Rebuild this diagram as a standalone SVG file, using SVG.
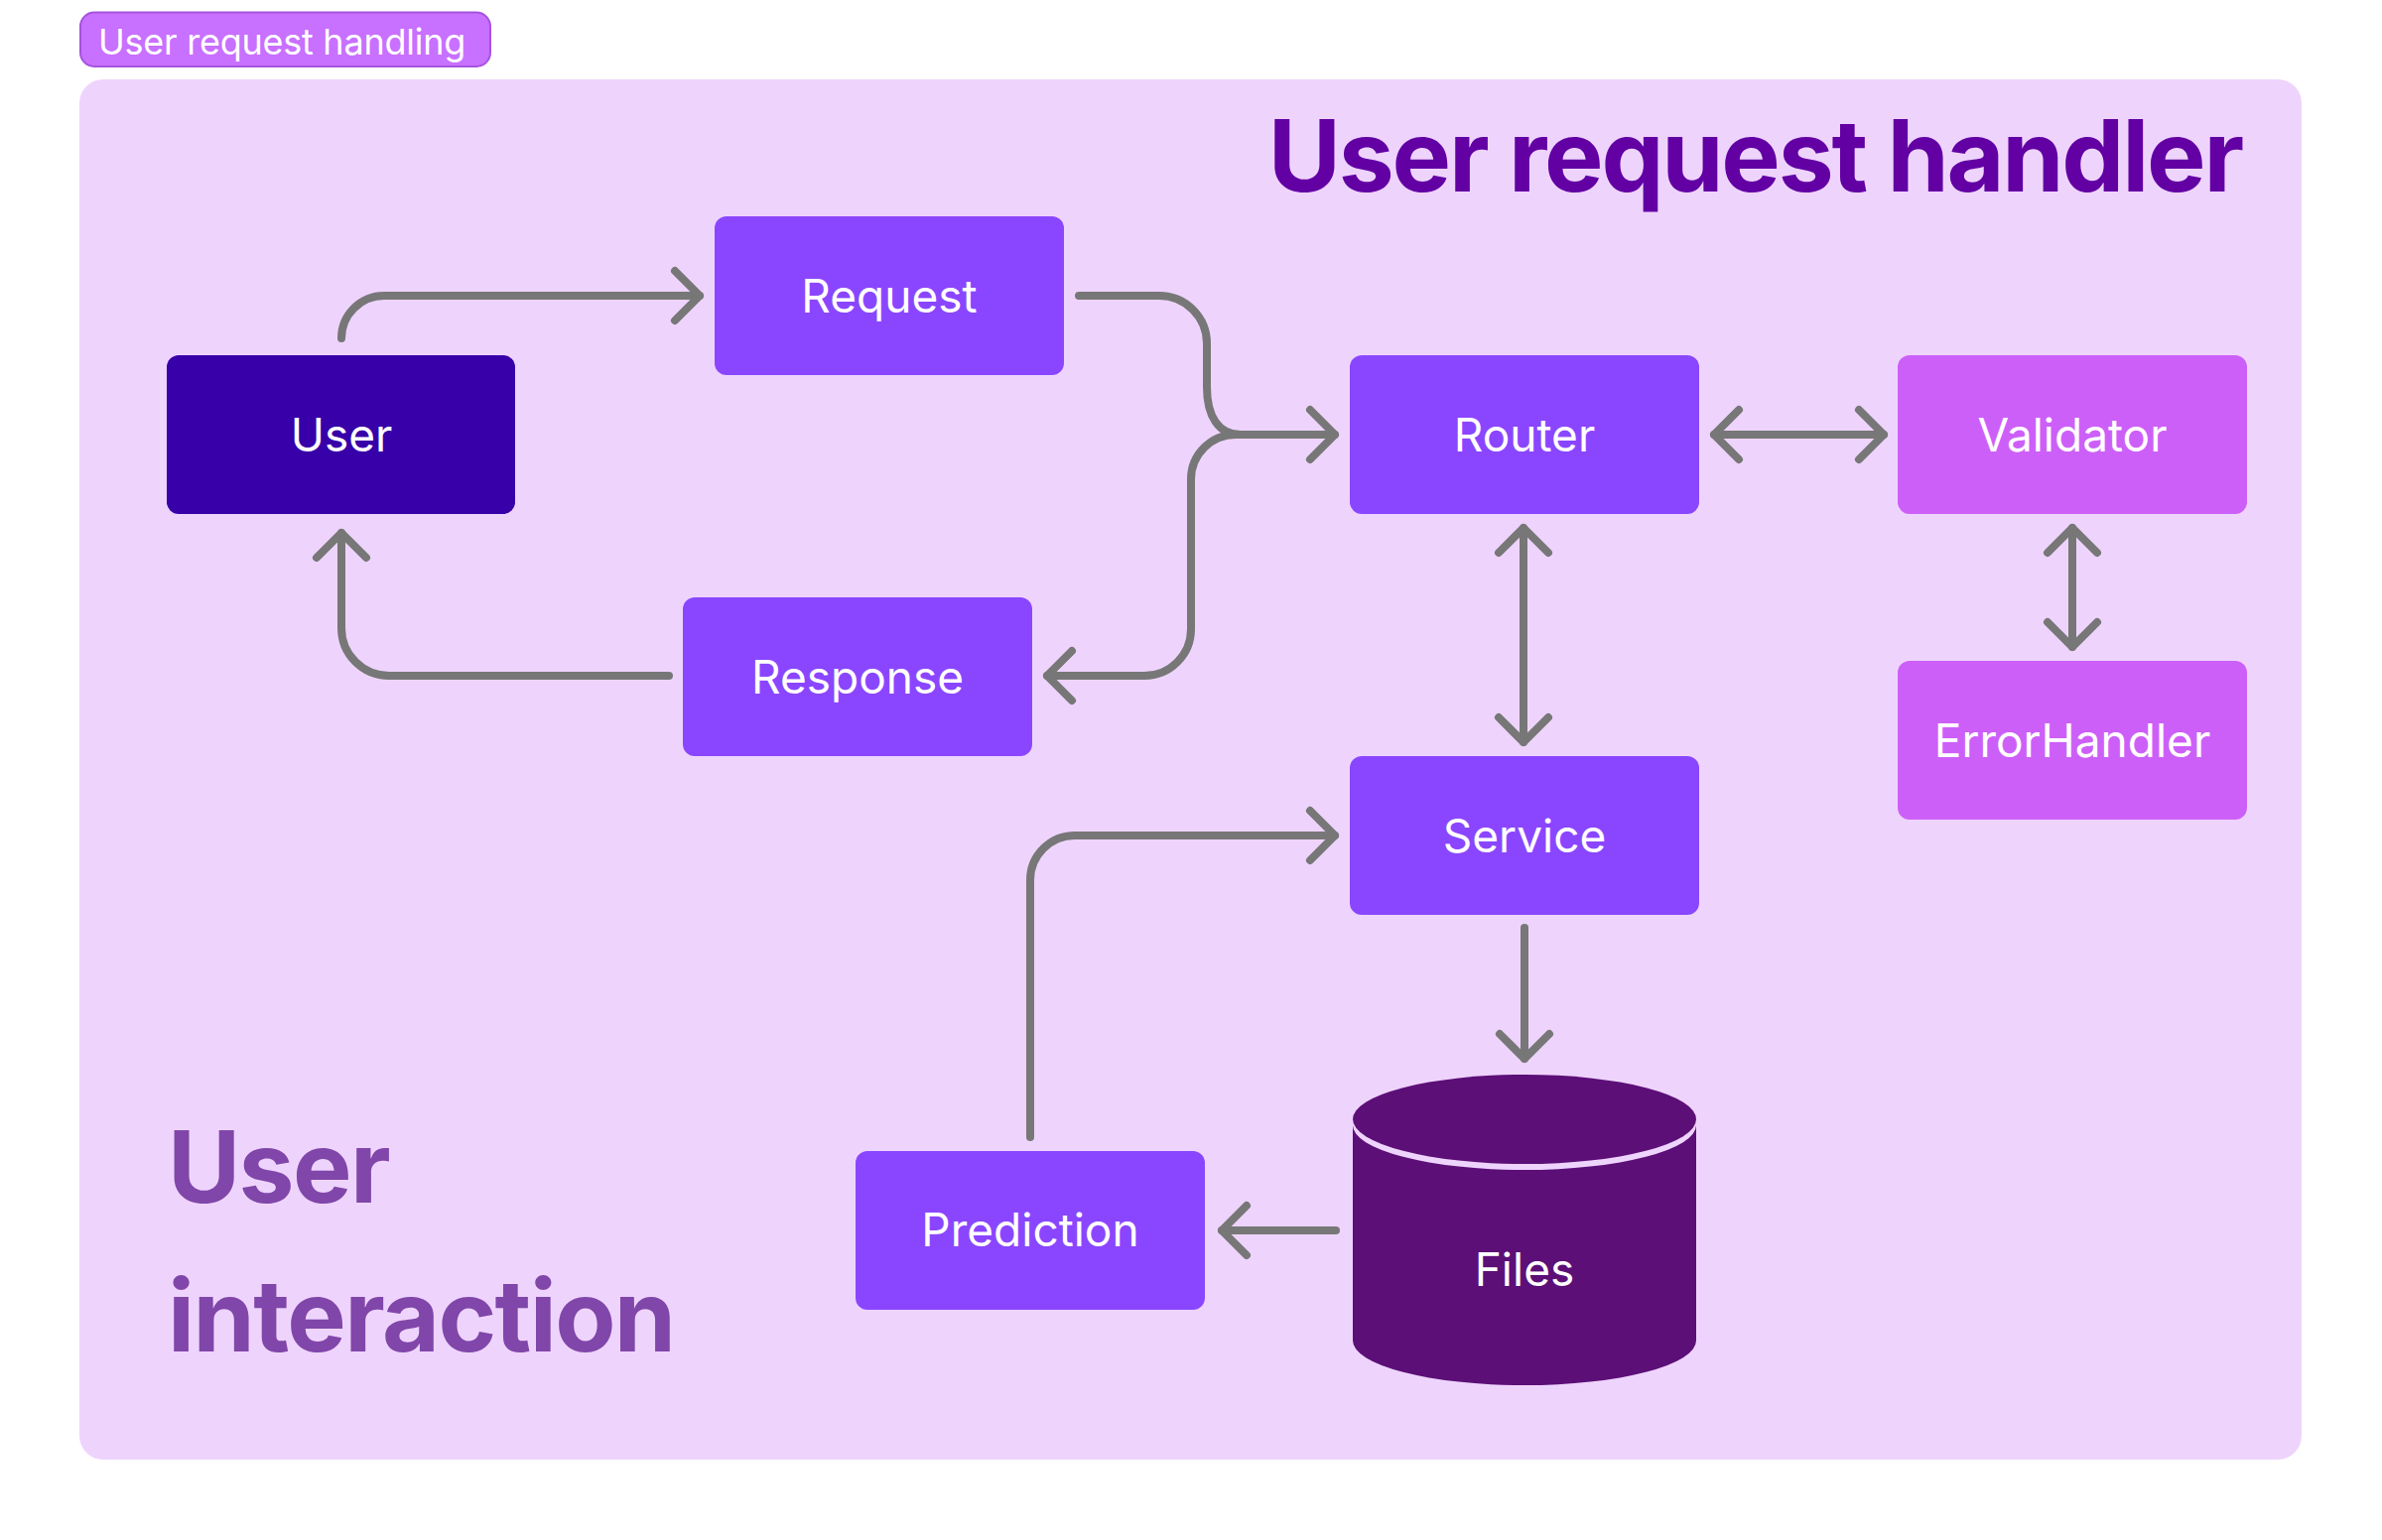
<svg xmlns="http://www.w3.org/2000/svg" width="2400" height="1552" viewBox="0 0 2400 1552">
  <style>
    .node { fill: #8A46FF; }
    .dark { fill: #3700A8; }
    .pink { fill: #CD5FF9; }
    .lbl { font-family: Inter, "Noto Sans", "Liberation Sans", sans-serif; font-size: 46px; fill: #FFFFFF; text-anchor: middle; }
    .conn { fill: none; stroke: #777777; stroke-width: 8; stroke-linecap: round; stroke-linejoin: round; }
    .big { font-family: Inter, "Noto Sans", "Liberation Sans", sans-serif; font-weight: 700; font-size: 100px; letter-spacing: -2.2px; }
    .big2 { letter-spacing: -1.6px; }
  </style>
  <defs>
    <marker id="ah" viewBox="0 0 40 64" refX="32" refY="32" markerWidth="40" markerHeight="64" markerUnits="userSpaceOnUse" orient="auto-start-reverse">
      <path d="M7,7 L32,32 L7,57" fill="none" stroke="#777777" stroke-width="8" stroke-linecap="round" stroke-linejoin="round"/>
    </marker>
  </defs>
  <rect width="2400" height="1552" fill="#FFFFFF"/>

  <g id="group-label">
    <rect x="81" y="12.5" width="413" height="54.5" rx="14" fill="#C870FF" stroke="#A652DF" stroke-width="2"/>
    <text x="99" y="55" font-family="Inter, 'Noto Sans', 'Liberation Sans', sans-serif" font-size="36" letter-spacing="-0.25" fill="#FFFFFF">User request handling</text>
  </g>

  <g id="container">
    <rect x="80" y="80" width="2239" height="1391" rx="24" fill="#EED4FC"/>
    <text class="big" x="2259" y="193" fill="#6200A4" text-anchor="end">User request handler</text>
    <text class="big big2" x="169" y="1212" fill="#8046A9">User</text>
    <text class="big big2" x="169" y="1362" fill="#8046A9">interaction</text>
  </g>

  <g id="connectors">
    <path class="conn" d="M344,341 A43,43 0 0 1 387,298 H705" marker-end="url(#ah)"/>
    <path class="conn" d="M1087,298 H1168 A48,48 0 0 1 1216,346 V390 C1216,420 1228,438 1250,438 H1345" marker-end="url(#ah)"/>
    <path class="conn" d="M1250,438 H1245 A45,45 0 0 0 1200,483 V634 A47,47 0 0 1 1153,681 H1055" marker-end="url(#ah)"/>
    <path class="conn" d="M674,681 H392 A48,48 0 0 1 344,633 V537" marker-end="url(#ah)"/>
    <path class="conn" d="M1727,438 H1898" marker-start="url(#ah)" marker-end="url(#ah)"/>
    <path class="conn" d="M1535,532 V748" marker-start="url(#ah)" marker-end="url(#ah)"/>
    <path class="conn" d="M2088,532 V652" marker-start="url(#ah)" marker-end="url(#ah)"/>
    <path class="conn" d="M1536,935 V1067" marker-end="url(#ah)"/>
    <path class="conn" d="M1346,1240 H1231" marker-end="url(#ah)"/>
    <path class="conn" d="M1038,1146 V887 A45,45 0 0 1 1083,842 H1345" marker-end="url(#ah)"/>
  </g>

  <g id="user">
    <rect class="dark" x="168" y="358" width="351" height="160" rx="12"/>
    <text class="lbl" x="344" y="455">User</text>
  </g>
  <g id="request">
    <rect class="node" x="720" y="218" width="352" height="160" rx="12"/>
    <text class="lbl" x="896" y="315">Request</text>
  </g>
  <g id="response">
    <rect class="node" x="688" y="602" width="352" height="160" rx="12"/>
    <text class="lbl" x="864" y="699">Response</text>
  </g>
  <g id="router">
    <rect class="node" x="1360" y="358" width="352" height="160" rx="12"/>
    <text class="lbl" x="1536" y="455">Router</text>
  </g>
  <g id="validator">
    <rect class="pink" x="1912" y="358" width="352" height="160" rx="12"/>
    <text class="lbl" x="2088" y="455">Validator</text>
  </g>
  <g id="errorhandler">
    <rect class="pink" x="1912" y="666" width="352" height="160" rx="12"/>
    <text class="lbl" x="2088" y="763">ErrorHandler</text>
  </g>
  <g id="service">
    <rect class="node" x="1360" y="762" width="352" height="160" rx="12"/>
    <text class="lbl" x="1536" y="859">Service</text>
  </g>
  <g id="prediction">
    <rect class="node" x="862" y="1160" width="352" height="160" rx="12"/>
    <text class="lbl" x="1038" y="1256">Prediction</text>
  </g>
  <g id="files">
    <path d="M1363,1134 A173,45 0 0 0 1709,1134 V1351 A173,45 0 0 1 1363,1351 Z" fill="#5C0F77"/>
    <ellipse cx="1536" cy="1128" rx="173" ry="45" fill="#5C0F77"/>
    <text class="lbl" x="1536" y="1296">Files</text>
  </g>
</svg>
